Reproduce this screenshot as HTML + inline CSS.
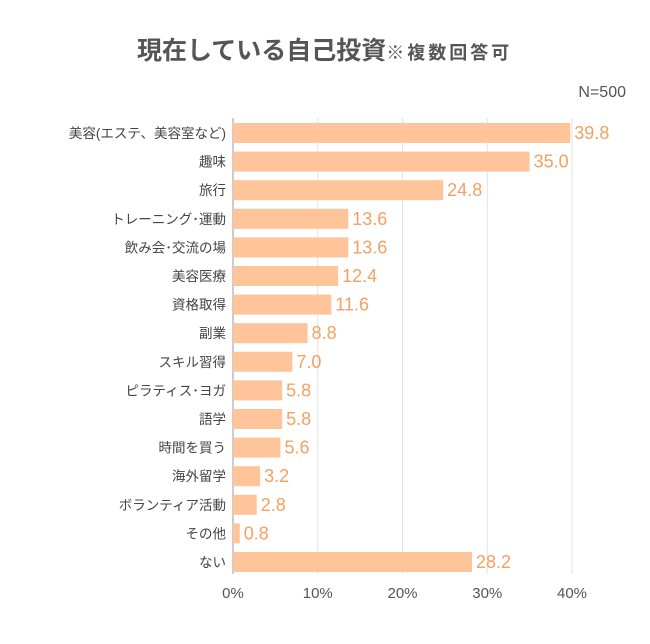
<!DOCTYPE html>
<html><head><meta charset="utf-8"><style>
body{margin:0;background:#fff;}
svg text{font-family:"Liberation Sans","Noto Sans CJK JP",sans-serif;}
</style></head><body>
<svg width="650" height="639">
<text x="137" y="59" font-size="25" font-weight="bold" fill="#555">現在している自己投資<tspan font-size="18" font-weight="bold" letter-spacing="3">※複数回答可</tspan></text>
<text x="626" y="97" font-size="16" fill="#555" text-anchor="end">N=500</text>
<g id="grid"></g><g id="bars"></g><g id="labels"></g>
</svg>
<script>
const categories=["美容(エステ、美容室など)","趣味","旅行","トレーニング･運動","飲み会･交流の場","美容医療","資格取得","副業","スキル習得","ピラティス･ヨガ","語学","時間を買う","海外留学","ボランティア活動","その他","ない"];
const values=[39.8,35.0,24.8,13.6,13.6,12.4,11.6,8.8,7.0,5.8,5.8,5.6,3.2,2.8,0.8,28.2];
const ticks=[0,10,20,30,40];
const ns="http://www.w3.org/2000/svg";
const x0=233,pxPer=8.475,top0=123,step=28.6,bh=20,plotTop=118,plotBot=574;
const X=v=>x0+v*pxPer, Y=i=>top0+i*step;
function mk(t,a,p){const e=document.createElementNS(ns,t);for(const k in a)e.setAttribute(k,a[k]);p.appendChild(e);return e;}
const g=document.getElementById('grid'),b=document.getElementById('bars'),l=document.getElementById('labels');
ticks.forEach(t=>{
 const ln=mk('line',{x1:X(t),x2:X(t),y1:plotTop,y2:plotBot,stroke:t===0?'#999':'#e3e3e3','stroke-width':1},g);
 
 
 const tx=mk('text',{x:X(t),y:598,'font-size':15,fill:'#555','text-anchor':'middle'},l);
 tx.textContent=t+'%';
 
 
});
categories.forEach((c,i)=>{
 const r=mk('rect',{x:x0,y:Y(i),width:values[i]*pxPer,height:bh,fill:'#ffc49a'},b);
 
 
 const ct=mk('text',{x:226,y:Y(i)+bh/2+5,'font-size':13.5,fill:'#444','text-anchor':'end'},l);
 ct.textContent=c;
 
 
 const vt=mk('text',{x:X(values[i])+4,y:Y(i)+bh/2+6,'font-size':18,fill:'#f5a062'},l);
 vt.textContent=values[i].toFixed(1);
 
 
});
</script>
</body></html>
